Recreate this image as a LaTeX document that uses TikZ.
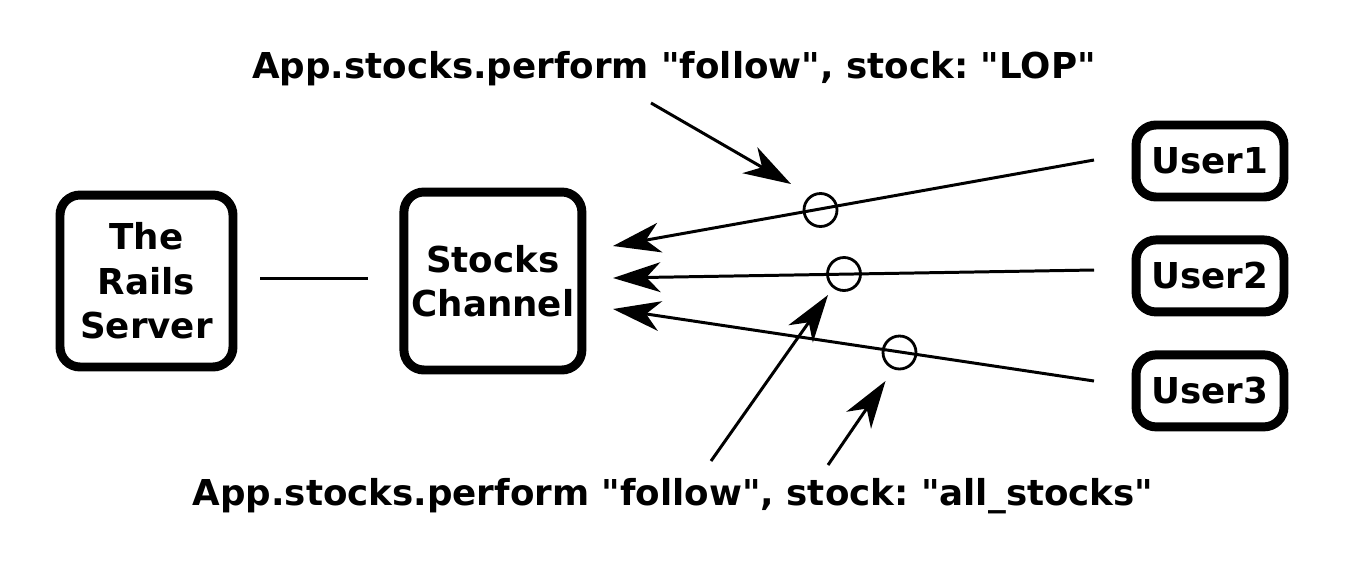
\documentclass[tikz,border=0pt]{standalone}
\usepackage{fontspec}
\setmainfont{DejaVu Sans}[Ligatures=TeXOff]
\usetikzlibrary{arrows.meta,positioning}
\frenchspacing

\begin{document}
\begin{tikzpicture}[
    x=0.02cm, y=-0.02cm,
    box/.style={rectangle,draw,line width=5.1pt,rounded corners=0.4cm,inner sep=0pt,
      font=\bfseries\fontsize{20.3}{25.3}\selectfont,align=center},
    userbox/.style={box,minimum width=2.96cm,minimum height=1.44cm},
    ring/.style={circle,draw,line width=1.6pt,minimum size=0.66cm,inner sep=0pt},
    msg/.style={->,line width=1.7pt},
    label/.style={font=\bfseries\fontsize{20.3}{24}\selectfont,anchor=base},
    >={Stealth[length=27pt,width=17pt,inset=8pt]}
  ]
  \useasboundingbox (0,0) rectangle (1345,569);
  % servers
  \node[box,minimum width=3.46cm,minimum height=3.44cm] (rails) at (146.5,281) {The\\Rails\\Server};
  \node[box,minimum width=3.56cm,minimum height=3.56cm,right=3.24cm of rails] (chan) {Stocks\\Channel};
  \draw[line width=1.7pt,shorten <=0.46cm,shorten >=0.62cm] ([yshift=0.06cm]rails.east) -- ([yshift=0.06cm]chan.west);
  % users
  \node[userbox] (user1) at (1210,161) {User1};
  \node[userbox,below=0.68cm of user1] (user2) {User2};
  \node[userbox,below=0.68cm of user2] (user3) {User3};
  % subscriptions
  \coordinate (out1) at (1094,160);
  \coordinate (out2) at (1094,270);
  \coordinate (out3) at (1094,381);
  \coordinate (in1) at (613,246);
  \coordinate (in2) at (613,278);
  \coordinate (in3) at (613,309);
  \draw[msg] (out1) -- (in1);
  \draw[msg] (out2) -- (in2);
  \draw[msg] (out3) -- (in3);
  \node[ring] (sub1) at (820.5,210) {};
  \node[ring] (sub2) at (844,274) {};
  \node[ring] (sub3) at (899.5,352.5) {};
  % calls
  \node[label] (lop) at (674,78) {App.stocks.perform "follow", stock: "LOP"};
  \node[label] (all) at (673,505) {App.stocks.perform "follow", stock: "all\_stocks"};
  \coordinate (lopfrom) at (651,103);
  \coordinate (lopto) at (791,184);
  \coordinate (allfromA) at (711,461);
  \coordinate (alltoA) at (828,295);
  \coordinate (allfromB) at (828,465);
  \coordinate (alltoB) at (885.5,381);
  \draw[msg] (lopfrom) -- (lopto);
  \draw[msg] (allfromA) -- (alltoA);
  \draw[msg] (allfromB) -- (alltoB);
\end{tikzpicture}
\end{document}
